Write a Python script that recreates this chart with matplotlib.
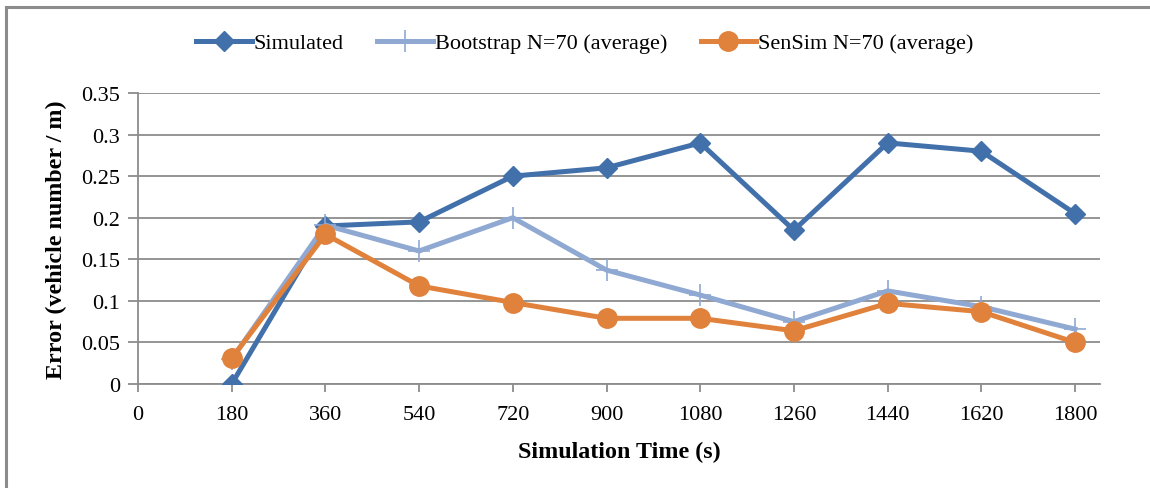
import matplotlib
matplotlib.use("Agg")
import matplotlib.pyplot as plt
from matplotlib.lines import Line2D

times = [180, 360, 540, 720, 900, 1080, 1260, 1440, 1620, 1800]
simulated = [0.0, 0.19, 0.195, 0.25, 0.26, 0.29, 0.185, 0.29, 0.28, 0.205]
bootstrap = [0.03, 0.191, 0.16, 0.20, 0.137, 0.107, 0.075, 0.112, 0.093, 0.066]
sensim = [0.031, 0.18, 0.118, 0.098, 0.079, 0.079, 0.064, 0.097, 0.087, 0.05]
xticks = [0, 180, 360, 540, 720, 900, 1080, 1260, 1440, 1620, 1800]
yticks = [0, 0.05, 0.1, 0.15, 0.2, 0.25, 0.3, 0.35]
ytick_labels = ["0", "0.05", "0.1", "0.15", "0.2", "0.25", "0.3", "0.35"]

plt.rcParams['font.family'] = ['Liberation Serif', 'DejaVu Serif']

c_sim = '#4170AA'
c_boot = '#8FA9D3'
c_sen = '#E0823C'
c_axis = '#8C8C8C'

fig = plt.figure(figsize=(11.5, 4.89), dpi=100)
ax = fig.add_axes([138/1150, 1-385/489, (1100-138)/1150, (385-94)/489])

ax.plot(times, simulated, color=c_sim, lw=3.6, marker='D', ms=10.5, mec=c_sim, mfc=c_sim,
        label='Simulated', solid_joinstyle='round', zorder=3)
ax.plot(times, bootstrap, color=c_boot, lw=3.6, marker='+', ms=16, mew=1.2, mec=c_boot,
        label='Bootstrap N=70 (average)', solid_joinstyle='round', zorder=4)
ax.plot(times, sensim, color=c_sen, lw=3.6, marker='o', ms=14, mec=c_sen, mfc=c_sen,
        label='SenSim N=70 (average)', solid_joinstyle='round', zorder=5)

ax.set_xlim(0, 1848)
ax.set_ylim(0, 0.35)
ax.set_xticks(xticks)
ax.set_xticklabels([str(t) for t in xticks])
ax.set_yticks(yticks)
ax.set_yticklabels(ytick_labels)
ax.yaxis.grid(True, color=c_axis, lw=1.3)
ax.set_axisbelow(True)
for s in ['top', 'right']:
    ax.spines[s].set_visible(False)
for s in ['bottom', 'left']:
    ax.spines[s].set_color(c_axis)
    ax.spines[s].set_linewidth(1.3)
    ax.spines[s].set_zorder(2)
ax.tick_params(axis='y', length=7, width=1.3, color=c_axis, labelsize=16, pad=6)
ax.tick_params(axis='x', length=6, width=1.3, color=c_axis, labelsize=16, pad=9)

ax.set_xlabel('Simulation Time (s)', fontsize=17.3, fontweight='bold', labelpad=12)
ax.set_ylabel('Error (vehicle number / m)', fontsize=17.3, fontweight='bold', labelpad=10)

leg = fig.legend(loc='center', bbox_to_anchor=(585/1150, 1-44/489), ncol=3, frameon=False,
                 fontsize=16, handlelength=2.5, handletextpad=0.1, columnspacing=1.5)

# outer frame (top and left edges visible)
fig.add_artist(Line2D([6/1150, 1.0], [1-8/489, 1-8/489], color=c_axis, lw=2.2,
                      transform=fig.transFigure))
fig.add_artist(Line2D([6/1150, 6/1150], [0, 1-8/489], color=c_axis, lw=2.2,
                      transform=fig.transFigure))

fig.savefig('out.png', dpi=100)
